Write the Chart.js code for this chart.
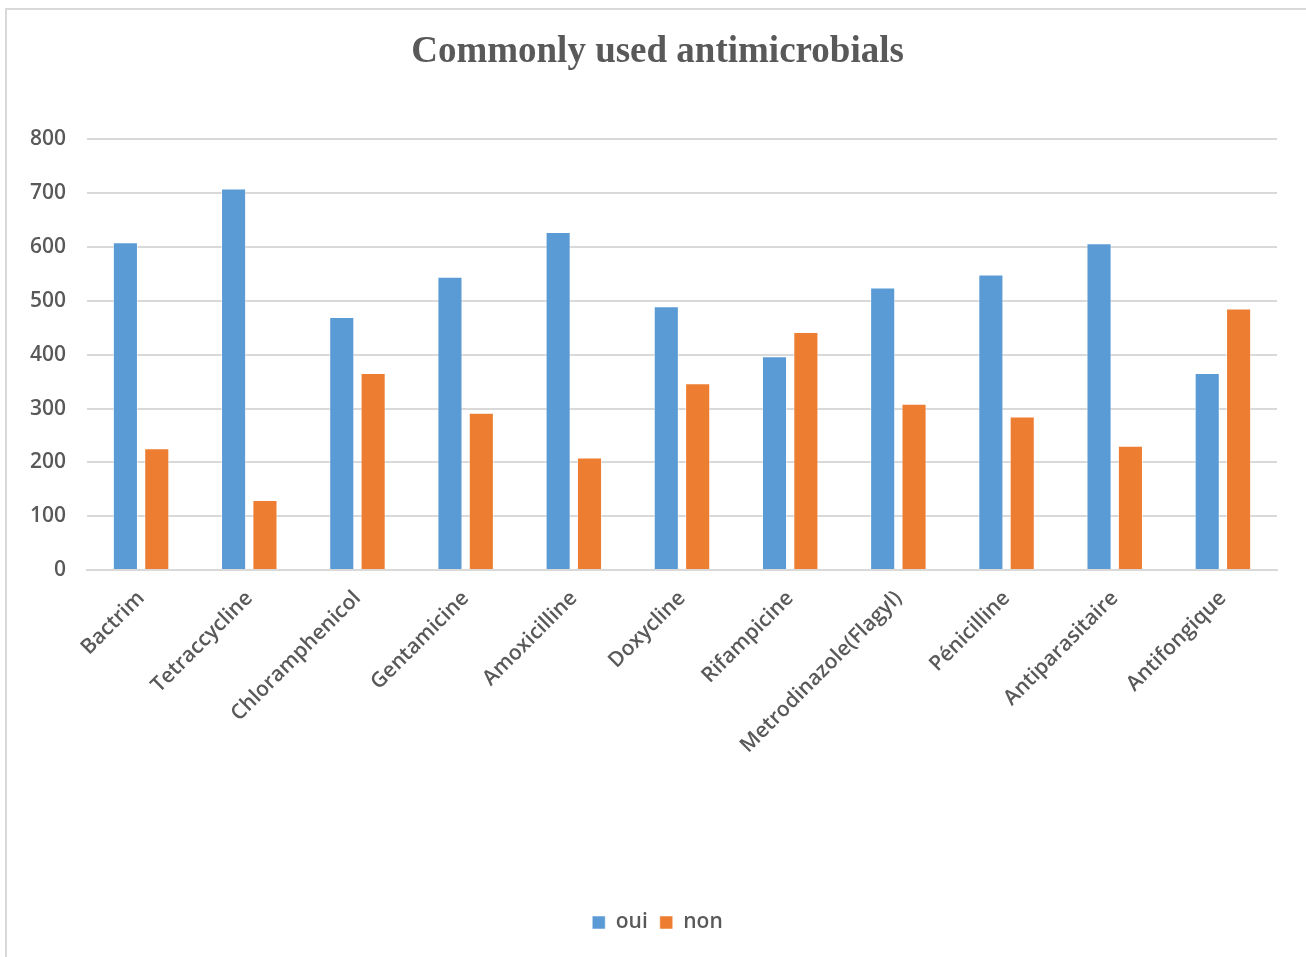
<!DOCTYPE html>
<html>
<head>
<meta charset="utf-8">
<title>Commonly used antimicrobials</title>
<script src="https://cdn.jsdelivr.net/npm/chart.js@4/dist/chart.umd.min.js"></script>
<style>
  html, body { margin: 0; padding: 0; background: #fff; }
  .frame {
    position: absolute; left: 5px; top: 8px; width: 1310px; height: 960px;
    border-top: 2px solid #d9d9d9; border-left: 2px solid #d9d9d9;
  }
  .wrap { position: absolute; left: 0; top: 0; width: 1306px; height: 957px; }
</style>
</head>
<body>
<div class="frame"></div>
<div class="wrap"><canvas id="chart" width="1306" height="957"></canvas></div>
<script>
const categories = [
  'Bactrim', 'Tetraccycline', 'Chloramphenicol', 'Gentamicine', 'Amoxicilline',
  'Doxycline', 'Rifampicine', 'Metrodinazole(Flagyl)', 'Pénicilline',
  'Antiparasitaire', 'Antifongique'
];
const oui = [609, 709, 470, 545, 628, 490, 397, 525, 549, 607, 366];
const non = [226, 130, 366, 292, 209, 347, 442, 309, 285, 231, 486];
const yTicks = [0, 100, 200, 300, 400, 500, 600, 700, 800];

const textGray = '#595959';
const labelFont = { family: "'Open Sans', sans-serif", size: 21, weight: '600' };

// centre title and legend on the plot frame instead of the whole canvas
const centreOnFrame = {
  id: 'centreOnFrame',
  afterLayout(chart) {
    const shift = 38;
    if (chart.titleBlock) chart.titleBlock.left = shift;
    if (chart.legend) {
      chart.legend.left += shift / 2;
      chart.legend.right += shift / 2;
    }
  }
};

new Chart(document.getElementById('chart'), {
  type: 'bar',
  data: {
    labels: categories,
    datasets: [
      { label: 'oui', data: oui, backgroundColor: '#5b9bd5', borderColor: 'rgba(255,255,255,0.5)', borderWidth: 1 },
      { label: 'non', data: non, backgroundColor: '#ed7d31', borderColor: 'rgba(255,255,255,0.5)', borderWidth: 1 }
    ]
  },
  plugins: [centreOnFrame],
  options: {
    responsive: false,
    animation: false,
    layout: { padding: { left: 0, right: 29, top: 0, bottom: 14 } },
    datasets: { bar: { categoryPercentage: 0.58, barPercentage: 0.8 } },
    plugins: {
      title: {
        display: true,
        text: 'Commonly used antimicrobials',
        color: textGray,
        font: { family: "'Liberation Serif', 'Times New Roman', serif", size: 37, weight: 'bold' },
        padding: { top: 30, bottom: 65 }
      },
      legend: {
        position: 'bottom',
        labels: {
          color: textGray,
          font: labelFont,
          boxWidth: 13,
          boxHeight: 13,
          padding: 12
        }
      },
      tooltip: { enabled: false }
    },
    scales: {
      x: {
        grid: { display: false },
        border: { display: true, color: '#d9d9d9', width: 2 },
        ticks: {
          color: textGray,
          font: labelFont,
          minRotation: 45,
          maxRotation: 45,
          padding: 8
        },
        afterFit(axis) { axis.height = 330; }
      },
      y: {
        min: 0,
        max: 800,
        afterBuildTicks(axis) { axis.ticks = yTicks.map(v => ({ value: v })); },
        grid: { color: '#d9d9d9', lineWidth: 2, drawTicks: false },
        border: { display: false },
        ticks: { color: textGray, font: labelFont, padding: 21 },
        afterFit(axis) { axis.width = 87; }
      }
    }
  }
});
</script>
</body>
</html>
